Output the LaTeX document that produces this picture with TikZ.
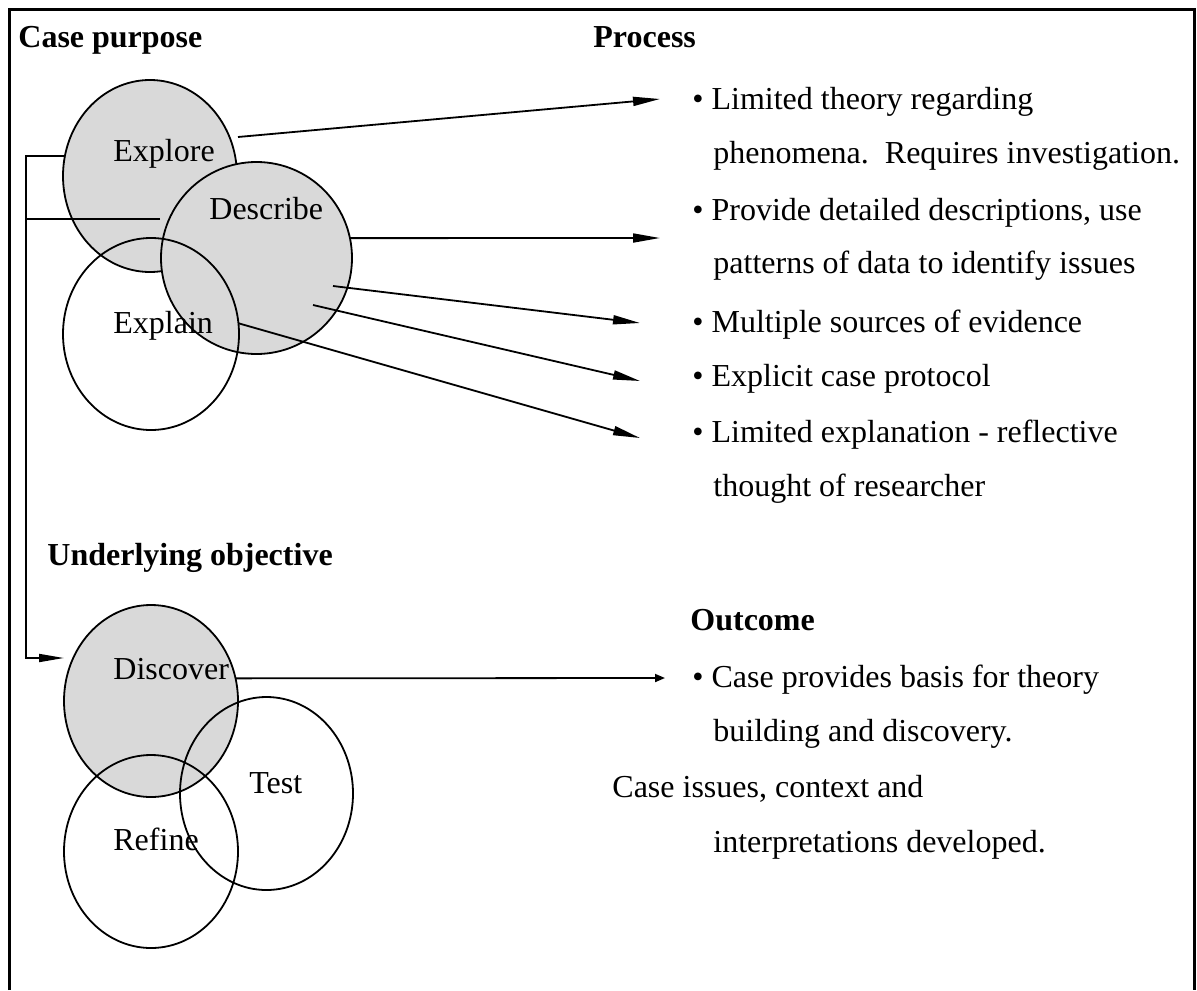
\documentclass[tikz,border=0pt]{standalone}
\usepackage{fontspec}
\setmainfont{Liberation Serif}
\usetikzlibrary{shapes.geometric,arrows.meta}

\begin{document}
\begin{tikzpicture}[x=0.5pt,y=-0.5pt,
  every node/.style={font=\fontsize{16}{19}\selectfont, inner sep=0pt, anchor=base west},
  blob/.style={ellipse, draw, line width=0.9pt, outer sep=0pt, anchor=center},
  shaded/.style={blob, fill=black!15},
  head/.style={font=\fontsize{16}{19}\selectfont\bfseries},
  arr/.style={line width=0.9pt, -{Triangle[length=13.5pt,width=4.5pt]}},
  smallarr/.style={line width=0.9pt, -{Triangle[length=5pt,width=4pt]}}]
\useasboundingbox (0,0) rectangle (1197,990);
\draw[line width=1.5pt] (9,990) -- (9,10) -- (1194,10) -- (1194,990);

% headings
\node[head] (purpose) at (18,48) {Case purpose};
\node[head] (process) at (593,48) {Process};
\node[head] (objective) at (47,565) {Underlying objective};
\node[head] (outcome) at (690,630) {Outcome};

% case purpose circles
\node[shaded, minimum width=87pt, minimum height=96pt] (explore) at (150,176) {};
\node[shaded, minimum width=95.5pt, minimum height=96pt] (describe) at (256.5,258) {};
\node[blob, minimum width=88pt, minimum height=96pt] (explain) at (151,334) {};
\node (exploreTxt) at (113,161) {Explore};
\node (describeTxt) at (209,219) {Describe};
\node (explainTxt) at (113,333) {Explain};

% objective circles
\node[shaded, minimum width=87pt, minimum height=96pt] (discover) at (151,701) {};
\node[blob, minimum width=86.5pt, minimum height=96.5pt] (test) at (266.5,793.5) {};
\node[blob, minimum width=87pt, minimum height=96.5pt] (refine) at (151,851.5) {};
\node (discoverTxt) at (113,679) {Discover};
\node (testTxt) at (249,793) {Test};
\node (refineTxt) at (113,850) {Refine};

% process items
\node (p1) at (692,110) {• Limited theory regarding};
\node (p1b) at (713,163) {phenomena.\ \ Requires investigation.};
\node (p2) at (692,220) {• Provide detailed descriptions, use};
\node (p2b) at (713,273) {patterns of data to identify issues};
\node (p3) at (692,332) {• Multiple sources of evidence};
\node (p4) at (692,386) {• Explicit case protocol};
\node (p5) at (692,442) {• Limited explanation - reflective};
\node (p5b) at (713,496) {thought of researcher};

% outcome items
\node (o1) at (692,687) {• Case provides basis for theory};
\node (o1b) at (713,741) {building and discovery.};
\node (o2) at (612,797) {Case issues, context and};
\node (o2b) at (713,852) {interpretations developed.};

% arrow ends
\coordinate (e1) at (660,99);
\coordinate (e2) at (660,238);
\coordinate (e3) at (640,323);
\coordinate (e4) at (640,381);
\coordinate (e5) at (640,438);
\coordinate (e6) at (665,678);
\coordinate (s1) at (238,137);
\coordinate (s3) at (333,286);
\coordinate (s4) at (313,305);

\draw[arr] (s1) -- (e1);
\draw[arr] (describe.12) -- (e2);
\draw[arr] (s3) -- (e3);
\draw[arr] (s4) -- (e4);
\draw[arr] (explain.7) -- (e5);
\draw[smallarr] (discover.15) -- (e6);

% bracket on the left
\coordinate (bb) at (26,658);
\coordinate (tip) at (64,658);
\coordinate (dl) at (160,219);
\draw[line width=0.9pt, -{Triangle[length=12.5pt,width=4pt]}] (explore.167) -| (bb) -- (tip);
\draw[line width=0.9pt] (dl) -- (dl -| bb);
\end{tikzpicture}
\end{document}
